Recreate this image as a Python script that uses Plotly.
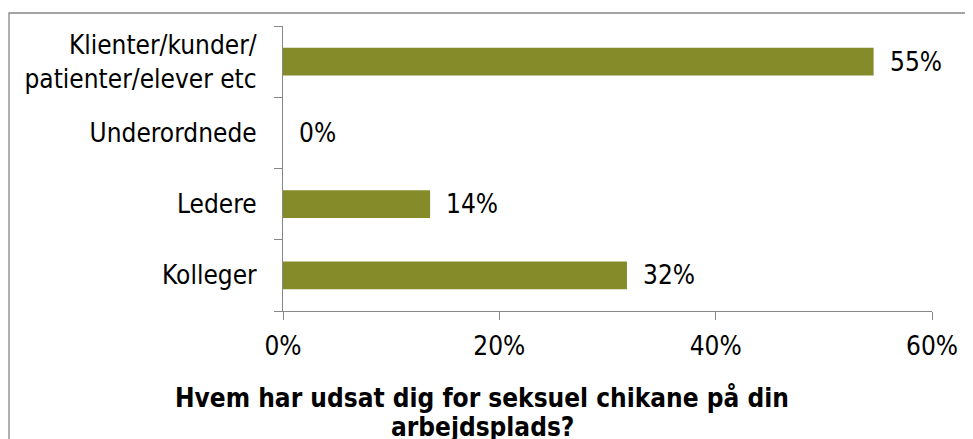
import plotly.graph_objects as go

categories = ["Klienter/kunder/<br>patienter/elever etc", "Underordnede", "Ledere", "Kolleger"]
values = [0.546, 0.0, 0.136, 0.318]
value_labels = ["55%", "0%", "14%", "32%"]
x_ticks = [0, 0.2, 0.4, 0.6]
x_tick_labels = ["0%", "20%", "40%", "60%"]
title_lines = ["Hvem har udsat dig for seksuel chikane på din", "arbejdsplads?"]

FONT = "DejaVu Sans Condensed, DejaVu Sans, sans-serif"
BAR = "#848B28"
GRAY = "#878787"

# page body has 8px default margin; layout numbers below compensate
L, R, T, B = 275, 49, 18, 136
PW = 973 - L - R
PH = 439 - T - B

fig = go.Figure()
fig.add_trace(go.Bar(
    x=values, y=categories, orientation="h",
    marker=dict(color=BAR, line=dict(width=0)),
    width=0.39, hoverinfo="skip",
))
for v, c, t in zip(values, categories, value_labels):
    fig.add_annotation(x=v, y=c, text=t, xanchor="left", xshift=14, showarrow=False,
                       font=dict(family=FONT, size=26, color="#000000"))

for i, line in enumerate(title_lines):
    fig.add_annotation(xref="paper", yref="paper", x=(474 - L) / PW, y=0,
                       xanchor="center", yanchor="middle", yshift=-86 - 30 * i,
                       text="<b>" + line + "</b>", showarrow=False,
                       font=dict(family=FONT, size=26, color="#000000"))

# outer chart frame
fig.add_shape(type="rect", xref="paper", yref="paper",
              x0=(1 - L) / PW, x1=1.2, y0=-1.0, y1=1 + (T - 5) / PH,
              line=dict(color=GRAY, width=1.3), fillcolor="rgba(0,0,0,0)", layer="below")

fig.update_xaxes(range=[0, 0.6], tickvals=x_ticks, ticktext=x_tick_labels,
                 showgrid=False, zeroline=False, showline=True, linecolor=GRAY, linewidth=1.3,
                 ticks="outside", ticklen=8, tickcolor=GRAY, tickwidth=1.3,
                 ticklabelstandoff=4,
                 tickfont=dict(family=FONT, size=26, color="#000000"), fixedrange=True)
fig.update_yaxes(categoryorder="array", categoryarray=categories[::-1],
                 tickson="boundaries", showgrid=False, zeroline=False,
                 showline=True, linecolor=GRAY, linewidth=1.3,
                 ticks="outside", ticklen=8, tickcolor=GRAY, tickwidth=1.3,
                 ticklabelstandoff=20,
                 tickfont=dict(family=FONT, size=26, color="#000000"), fixedrange=True)

fig.update_layout(width=973, height=439, margin=dict(l=L, r=R, t=T, b=B, autoexpand=False),
                  plot_bgcolor="white", paper_bgcolor="white", showlegend=False,
                  bargap=0.61)
fig.write_html("out.html", config={"displayModeBar": False})
